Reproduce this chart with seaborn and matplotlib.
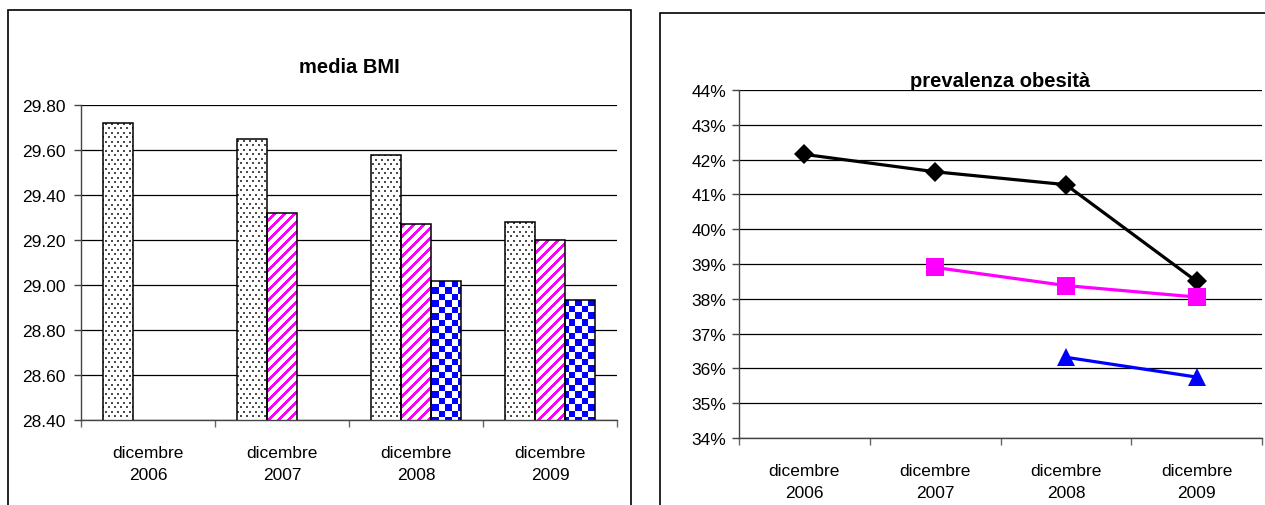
import numpy as np
import pandas as pd
import seaborn as sns
import matplotlib.pyplot as plt
from matplotlib.patches import Rectangle
from matplotlib.ticker import FuncFormatter, MultipleLocator, FixedLocator

# -------------------------------
# DATA
# -------------------------------
anni = ["dicembre\n2006", "dicembre\n2007", "dicembre\n2008", "dicembre\n2009"]
serie = ["serie 1", "serie 2", "serie 3"]

bmi_1 = [29.72, 29.65, 29.58, 29.28]
bmi_2 = [np.nan, 29.32, 29.27, 29.20]
bmi_3 = [np.nan, np.nan, 29.02, 28.935]

obes_1 = [42.15, 41.65, 41.28, 38.50]
obes_2 = [np.nan, 38.90, 38.38, 38.05]
obes_3 = [np.nan, np.nan, 36.32, 35.75]

# -------------------------------
# STYLE
# -------------------------------
sns.set_theme(style="white")
plt.rcParams["font.family"] = ["Liberation Sans", "DejaVu Sans"]
plt.rcParams["font.size"] = 12
plt.rcParams["text.color"] = "black"

W, H = 1265, 506
fig = plt.figure(figsize=(W / 100, H / 100), dpi=100)

# panel borders
fig.patches.append(Rectangle((8 / W, -0.1), (631 - 8) / W, 1.1 - 11 / H,
                             transform=fig.transFigure, fill=False,
                             edgecolor="black", lw=1.2))
fig.patches.append(Rectangle((660 / W, -0.1), (1280 - 660) / W, 1.1 - 14 / H,
                             transform=fig.transFigure, fill=False,
                             edgecolor="black", lw=1.2))

ax1 = fig.add_axes([81 / W, 1 - 421 / H, (617 - 81) / W, (421 - 106) / H])
ax2 = fig.add_axes([739 / W, 1 - 439 / H, (1262 - 739) / W, (439 - 91) / H])


def style_axis(ax, ypad):
    for s in ["top", "right"]:
        ax.spines[s].set_visible(False)
    for s in ["left", "bottom"]:
        ax.spines[s].set_color("#444444")
        ax.spines[s].set_linewidth(1.0)
    ax.yaxis.grid(True, color="black", lw=0.9)
    ax.xaxis.grid(False)
    ax.set_axisbelow(True)
    ax.set_xlim(-0.5, 3.5)
    ax.xaxis.set_minor_locator(FixedLocator([-0.5, 0.5, 1.5, 2.5, 3.5]))
    ax.tick_params(axis="x", which="major", length=0, pad=18, labelsize=12.5,
                   labelcolor="black")
    ax.tick_params(axis="x", which="minor", length=5, width=1, color="#666666",
                   bottom=True)
    ax.tick_params(axis="y", which="major", length=5, width=1, color="#444444",
                   left=True, labelsize=12.5, pad=ypad, labelcolor="black")
    for lab in ax.get_xticklabels():
        lab.set_linespacing(1.6)
    ax.set_xlabel("")
    ax.set_ylabel("")


# -------------------------------
# 1. MEDIA BMI (bars with textures)
# -------------------------------
bmi_df = pd.DataFrame({
    "anno": anni * 3,
    "serie": np.repeat(serie, len(anni)),
    "valore": bmi_1 + bmi_2 + bmi_3,
}).dropna()

sns.barplot(data=bmi_df, x="anno", y="valore", hue="serie", order=anni,
            hue_order=serie, width=0.67, dodge=True, legend=False,
            palette=["white"] * 3, edgecolor="black", linewidth=1.1,
            errorbar=None, ax=ax1, zorder=3)
ax1.set_ylim(28.40, 29.80)
ax1.yaxis.set_major_locator(MultipleLocator(0.2))
ax1.yaxis.set_major_formatter(FuncFormatter(lambda v, p: f"{v:.2f}"))


def texture(kind, w, h):
    yy, xx = np.indices((h, w))
    img = np.ones((h, w, 3))
    if kind == 0:
        m = ((xx % 6 < 2) & (yy % 9 < 2)) | (((xx + 3) % 6 < 2) & ((yy + 5) % 9 < 2))
        img[m] = (0.3, 0.3, 0.3)
    elif kind == 1:
        m = (xx + yy) % 10 < 4
        img[m] = (1, 0, 1)
    else:
        m = ((xx / 6.5).astype(int) + (yy / 6.5).astype(int)) % 2 == 0
        img[m] = (0, 0, 1)
    return img


aw, ah = 617 - 81, 421 - 106
for cont in ax1.containers:
    k = serie.index(cont.get_label()) if cont.get_label() in serie else ax1.containers.index(cont)
    tex = texture(k, aw, ah)
    for bar in cont:
        if not np.isfinite(bar.get_height()):
            continue
        bar.set_facecolor("none")
        im = ax1.imshow(tex, extent=(0, 1, 0, 1), transform=ax1.transAxes,
                        aspect="auto", interpolation="nearest", zorder=2.5)
        im.set_clip_path(bar)

ax1.set_xlim(-0.5, 3.5)
ax1.set_ylim(28.40, 29.80)
ax1.set_title("media BMI", fontsize=14.5, fontweight="bold", pad=24)
style_axis(ax1, 6)

# -------------------------------
# 2. PREVALENZA OBESITA' (lines)
# -------------------------------
obes_df = pd.DataFrame({
    "anno": anni * 3,
    "serie": np.repeat(serie, len(anni)),
    "valore": obes_1 + obes_2 + obes_3,
}).dropna()

sns.lineplot(data=obes_df, x="anno", y="valore", hue="serie", style="serie",
             hue_order=serie, style_order=serie,
             palette=["black", "#FF00FF", "#0000FF"],
             markers=["D", "s", "^"], dashes=False, linewidth=2.3,
             markersize=12.5, markeredgewidth=0, legend=False, ax=ax2)
for line in ax2.lines:
    if line.get_marker() == "D":
        line.set_markersize(10)

ax2.set_ylim(34, 44)
ax2.yaxis.set_major_locator(MultipleLocator(1))
ax2.yaxis.set_major_formatter(FuncFormatter(lambda v, p: f"{v:.0f}%"))
ax2.set_xticks(range(len(anni)))
ax2.set_xticklabels(anni)
ax2.set_title("prevalenza obesità", fontsize=14.5, fontweight="bold", pad=3)
style_axis(ax2, 4)

plt.savefig("out.png", dpi=100)
plt.close()
